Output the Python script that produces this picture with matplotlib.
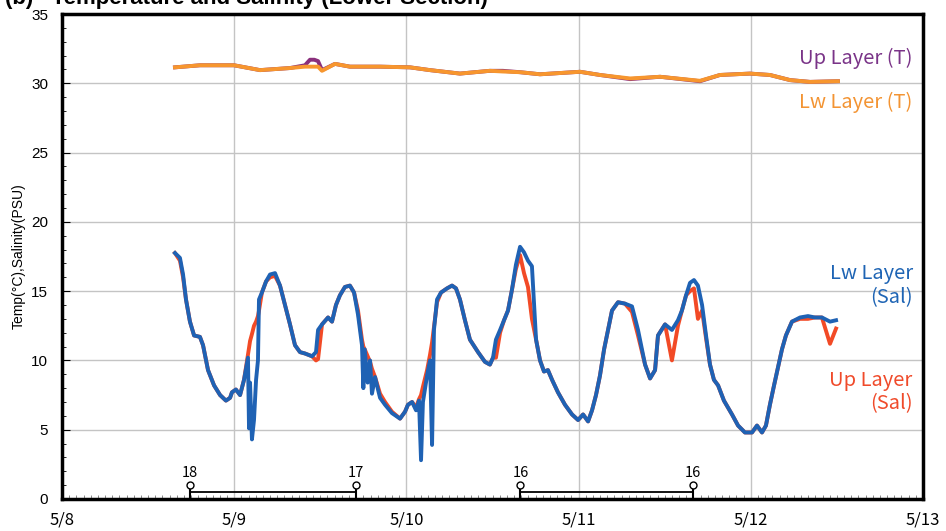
import numpy as np
import matplotlib
matplotlib.use('Agg')
import matplotlib.pyplot as plt
from matplotlib.ticker import MultipleLocator

# time in days since 5/8 00:00
t_sal = [0.656, 0.685, 0.703, 0.720, 0.743, 0.767, 0.801, 0.819, 0.848, 0.883,
         0.918, 0.952, 0.976, 0.987, 1.010, 1.034, 1.057, 1.080, 1.086, 1.092,
         1.103, 1.115, 1.127, 1.138, 1.144, 1.161, 1.185, 1.208, 1.237, 1.266,
         1.295, 1.324, 1.353, 1.382, 1.411, 1.452, 1.475, 1.487, 1.510, 1.545,
         1.568, 1.591, 1.614, 1.643, 1.672, 1.696, 1.719, 1.742, 1.750, 1.758,
         1.775, 1.789, 1.800, 1.818, 1.835, 1.847, 1.876, 1.916, 1.963, 1.992,
         2.009, 2.033, 2.056, 2.073, 2.085, 2.096, 2.120, 2.137, 2.149, 2.160,
         2.178, 2.201, 2.236, 2.265, 2.288, 2.311, 2.340, 2.369, 2.416, 2.456,
         2.485, 2.503, 2.520, 2.544, 2.567, 2.590, 2.613, 2.636, 2.660, 2.683,
         2.706, 2.729, 2.753, 2.776, 2.799, 2.822, 2.846, 2.880, 2.921, 2.962,
         2.997, 3.026, 3.055, 3.078, 3.101, 3.124, 3.148, 3.171, 3.194, 3.229,
         3.269, 3.310, 3.345, 3.386, 3.415, 3.444, 3.461, 3.502, 3.542, 3.577,
         3.600, 3.624, 3.647, 3.670, 3.693, 3.717, 3.740, 3.763, 3.786, 3.810,
         3.844, 3.891, 3.926, 3.966, 4.007, 4.036, 4.065, 4.088, 4.111, 4.135,
         4.158, 4.181, 4.204, 4.239, 4.286, 4.332, 4.373, 4.413, 4.460, 4.495]

sal_lw = [17.75, 17.4, 16.2, 14.4, 12.8, 11.8, 11.7, 11.1, 9.3, 8.2,
          7.5, 7.1, 7.3, 7.7, 7.9, 7.5, 8.6, 10.2, 5.1, 8.4,
          4.3, 5.7, 8.6, 10.0, 14.4, 14.9, 15.7, 16.2, 16.3, 15.4,
          14.0, 12.6, 11.1, 10.6, 10.5, 10.3, 10.6, 12.2, 12.6, 13.1,
          12.8, 14.0, 14.7, 15.3, 15.4, 14.9, 13.3, 11.1, 8.0, 10.8,
          8.4, 10.0, 7.6, 8.8, 7.9, 7.3, 6.8, 6.2, 5.8, 6.3,
          6.8, 7.0, 6.4, 7.1, 2.8, 7.0, 8.9, 10.0, 3.9, 12.2,
          14.4, 14.9, 15.2, 15.4, 15.2, 14.4, 12.9, 11.5, 10.6, 9.9,
          9.7, 10.2, 11.5, 12.2, 12.9, 13.6, 15.1, 16.9, 18.2, 17.8,
          17.2, 16.8, 11.5, 10.0, 9.2, 9.3, 8.6, 7.7, 6.8, 6.1,
          5.7, 6.1, 5.6, 6.4, 7.5, 8.9, 10.8, 12.2, 13.6, 14.2,
          14.1, 13.9, 12.2, 9.7, 8.7, 9.3, 11.8, 12.6, 12.2, 12.9,
          13.6, 14.7, 15.6, 15.8, 15.4, 14.0, 11.8, 9.7, 8.6, 8.2,
          7.1, 6.1, 5.3, 4.8, 4.8, 5.3, 4.8, 5.3, 6.8, 8.2,
          9.5, 10.8, 11.8, 12.8, 13.1, 13.2, 13.1, 13.1, 12.8, 12.9]

sal_up = [17.75, 17.2, 16.0, 14.4, 12.8, 11.8, 11.7, 11.1, 9.3, 8.2,
          7.5, 7.1, 7.3, 7.7, 7.9, 7.5, 8.6, 10.4, 10.9, 11.4,
          11.9, 12.5, 12.8, 13.2, 13.6, 14.9, 15.7, 16.0, 16.1, 15.4,
          14.0, 12.6, 11.1, 10.6, 10.5, 10.3, 10.0, 10.1, 12.6, 13.1,
          12.8, 14.0, 14.7, 15.3, 15.4, 14.9, 13.6, 11.5, 11.0, 10.8,
          10.3, 9.9, 9.4, 8.8, 8.1, 7.6, 7.0, 6.3, 5.8, 6.3,
          6.8, 7.0, 6.6, 7.2, 7.5, 8.1, 9.3, 10.4, 11.3, 12.4,
          14.2, 14.9, 15.2, 15.4, 15.2, 14.4, 12.9, 11.5, 10.6, 9.9,
          9.7, 10.2, 10.2, 12.0, 12.9, 13.6, 15.1, 16.6, 17.6, 16.3,
          15.3, 13.0, 11.5, 10.0, 9.2, 9.3, 8.6, 7.7, 6.8, 6.1,
          5.7, 6.1, 5.6, 6.4, 7.5, 8.9, 10.8, 12.2, 13.6, 14.2,
          14.1, 13.5, 11.8, 9.7, 8.7, 9.3, 11.8, 12.6, 10.0, 12.5,
          13.6, 14.7, 15.0, 15.2, 13.0, 13.6, 11.6, 9.7, 8.6, 8.2,
          7.1, 6.1, 5.3, 4.8, 4.8, 5.3, 4.8, 5.3, 6.8, 8.2,
          9.5, 10.8, 11.8, 12.8, 13.0, 13.0, 13.1, 13.1, 11.2, 12.3]

t_tmp = [0.656, 0.801, 0.999, 1.150, 1.324, 1.411, 1.440, 1.465, 1.487, 1.510,
         1.585, 1.672, 1.847, 2.021, 2.137, 2.311, 2.485, 2.560, 2.660, 2.776,
         3.008, 3.124, 3.299, 3.473, 3.705, 3.821, 3.995, 4.111, 4.228, 4.344,
         4.506]
tmp_lw = [31.15, 31.3, 31.3, 30.95, 31.1, 31.2, 31.2, 31.2, 31.2, 30.9,
          31.4, 31.2, 31.2, 31.15, 30.95, 30.7, 30.9, 30.85, 30.8, 30.65,
          30.83, 30.6, 30.35, 30.47, 30.18, 30.6, 30.7, 30.6, 30.23, 30.1,
          30.15]
tmp_up = [31.15, 31.3, 31.3, 30.95, 31.1, 31.3, 31.7, 31.7, 31.6, 30.95,
          31.4, 31.2, 31.2, 31.15, 30.95, 30.7, 30.9, 30.9, 30.8, 30.65,
          30.83, 30.6, 30.3, 30.47, 30.15, 30.6, 30.7, 30.6, 30.23, 30.1,
          30.15]

st_t = [0.742, 1.705, 2.662, 3.666]
st_lab = ['18', '17', '16', '16']
st_pairs = [(0, 1), (2, 3)]

day_labels = ['5/8', '5/9', '5/10', '5/11', '5/12', '5/13']

plt.rcParams['font.family'] = ['Noto Sans CJK JP', 'DejaVu Sans']

fig = plt.figure(figsize=(9.46, 5.31), dpi=100)
ax = fig.add_axes([62/946, 32/531, 861/946, 485/531])

ax.grid(True, color='#c4c4c4', lw=1)
ax.set_axisbelow(True)

ax.plot(t_tmp, tmp_up, color='#8a2f7c', lw=2.8)
ax.plot(t_tmp, tmp_lw, color='#f7962e', lw=2.8)
ax.plot(t_sal, sal_up, color='#f24a26', lw=2.8)
ax.plot(t_sal, sal_lw, color='#1f62b4', lw=2.8)

# station markers
for i, j in st_pairs:
    ax.plot([st_t[i], st_t[j]], [0.5, 0.5], color='black', lw=1.3)
for t, lab in zip(st_t, st_lab):
    ax.plot([t, t], [0, 0.9], color='black', lw=1.5)
    ax.plot(t, 1.0, marker='o', ms=5, mfc='white', mec='black', mew=1)
    ax.text(t, 1.35, lab, ha='center', va='bottom', fontsize=10.5)

tx = 4.94
ax.text(tx, 31.8, 'Up Layer (T)', color='#7a3488', fontsize=14.5, ha='right', va='center')
ax.text(tx, 28.6, 'Lw Layer (T)', color='#f39433', fontsize=14.5, ha='right', va='center')
ax.text(tx, 15.4, 'Lw Layer\n(Sal)', color='#1e64b4', fontsize=14.5, ha='right', va='center',
        multialignment='right', linespacing=1.15)
ax.text(tx, 7.7, 'Up Layer\n(Sal)', color='#f04a2a', fontsize=14.5, ha='right', va='center',
        multialignment='right', linespacing=1.15)

ax.set_xlim(0, 5)
ax.set_ylim(0, 35)
ax.set_xticks(range(6))
ax.set_xticklabels(day_labels, fontsize=12)
ax.xaxis.set_minor_locator(MultipleLocator(1/24))
ax.set_yticks(range(0, 36, 5))
ax.set_yticklabels([str(v) for v in range(0, 36, 5)], fontsize=11, family='Liberation Sans')
ax.yaxis.set_minor_locator(MultipleLocator(1))
ax.tick_params(axis='x', which='major', length=0, pad=9)
ax.tick_params(axis='x', which='minor', direction='in', length=3, width=0.6, color='#777777')
ax.tick_params(axis='y', which='major', direction='in', length=6, width=0.8, pad=10)
ax.tick_params(axis='y', which='minor', direction='in', length=3, width=0.6)
for s in ax.spines.values():
    s.set_linewidth(2.5)

ax.set_ylabel('Temp(°C),Salinity(PSU)', fontsize=10, family='Liberation Sans', labelpad=4)

fig.text(0.005, 1 - 4/531, '(b)   Temperature and Salinity (Lower Section)',
         fontsize=16, fontweight='bold', family='Liberation Sans', va='baseline')

fig.savefig('out.png', dpi=100)
